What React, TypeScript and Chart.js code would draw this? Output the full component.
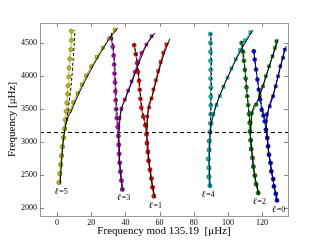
import React, { useEffect, useRef } from 'react';
import { Chart, registerables } from 'chart.js';

Chart.register(...registerables);

// axis ticks
const xTicks = [0, 20, 40, 60, 80, 100, 120];
const yTicks = [2000, 2500, 3000, 3500, 4000, 4500];
const numax = 3152;

// l = 5
const l5_fC = [2385, 2520, 2656, 2792, 2928, 3064, 3200, 3336, 3464, 3591, 3727, 3853, 3985, 4121, 4258, 4398, 4539, 4676];
const l5_xC = [1.0, 1.5, 2.2, 2.5, 3.0, 3.6, 4.3, 4.8, 5.3, 5.7, 6.1, 6.4, 6.9, 7.0, 7.4, 8.0, 8.4, 8.4];
const l5_fS = [2388, 2522, 2657, 2793, 2929, 3065, 3202, 3340, 3470, 3600, 3735, 3870, 4005, 4145, 4285, 4425, 4562, 4700];
const l5_xS = [1.4, 1.8, 2.0, 2.8, 3.3, 3.9, 4.6, 5.5, 7.5, 9.5, 12.0, 14.5, 17.0, 20.0, 23.2, 26.8, 30.3, 33.8];
const l5_fMS = [2370, 2900, 3250, 3480, 3720, 3930, 4150, 4350, 4560, 4720];
const l5_xMS = [1.8, 3.2, 5.0, 8.5, 12.5, 16.5, 21.0, 25.5, 30.5, 35.5];
const l5_fMC = [3250, 3500, 3800, 4100, 4400, 4690];
const l5_xMC = [5.0, 6.5, 8.0, 9.0, 9.8, 10.5];

// l = 3
const l3_fC = [2281, 2416, 2551, 2686, 2821, 2956, 3091, 3226, 3361, 3496, 3631, 3766, 3901, 4036, 4171, 4306, 4441, 4576];
const l3_xC = [38.3, 37.6, 37.0, 36.6, 36.3, 36.0, 35.8, 35.4, 34.9, 34.6, 34.3, 34.1, 33.9, 33.6, 33.4, 33.1, 32.6, 31.5];
const l3_fS = [2281, 2416, 2551, 2686, 2821, 2956, 3091, 3226, 3361, 3500, 3641, 3777, 3918, 4061, 4206, 4348, 4474, 4600];
const l3_xS = [38.0, 37.8, 37.3, 36.8, 36.5, 36.3, 36.0, 35.9, 36.5, 37.7, 39.6, 41.6, 43.6, 45.5, 47.4, 49.4, 52.3, 55.3];
const l3_fMS = [2260, 2700, 3100, 3400, 3650, 3920, 4200, 4450, 4650];
const l3_xMS = [38.6, 36.6, 36.0, 37.0, 40.0, 44.0, 48.0, 52.0, 57.2];
const l3_fMC = [3250, 3700, 4100, 4400, 4650];
const l3_xMC = [35.6, 34.6, 33.9, 33.0, 31.8];

// l = 1
const l1_fC = [2179, 2313, 2447, 2581, 2715, 2849, 2983, 3117, 3251, 3384, 3519, 3654, 3789, 3924, 4059, 4194, 4329, 4464];
const l1_xC = [56.6, 56.0, 55.2, 54.3, 53.6, 53.1, 52.7, 52.3, 51.6, 50.4, 49.3, 48.8, 48.4, 48.0, 47.4, 46.8, 46.1, 45.1];
const l1_fS = [2179, 2313, 2447, 2581, 2715, 2849, 2983, 3117, 3251, 3386, 3522, 3659, 3795, 3933, 4071, 4210, 4350, 4478];
const l1_xS = [56.9, 55.7, 55.4, 54.6, 53.5, 53.3, 52.5, 52.5, 52.3, 52.8, 53.9, 55.3, 56.4, 57.8, 59.1, 60.6, 62.2, 64.0];
const l1_fMS = [2160, 2600, 3100, 3400, 3700, 4000, 4300, 4560];
const l1_xMS = [57.2, 54.2, 52.4, 53.0, 55.8, 58.8, 62.2, 66.0];
const l1_fMC = [3250, 3550, 3900, 4250, 4500];
const l1_xMC = [51.8, 49.5, 48.2, 46.7, 45.0];

// l = 4
const l4_fC = [2338, 2473, 2608, 2743, 2878, 3013, 3148, 3283, 3418, 3553, 3688, 3823, 3958, 4093, 4228, 4363, 4498, 4633];
const l4_xC = [89.4, 89.0, 88.8, 88.7, 88.9, 89.2, 89.4, 89.7, 89.9, 90.0, 90.0, 90.0, 89.9, 89.9, 89.8, 89.8, 89.8, 89.7];
const l4_fS = [2338, 2473, 2608, 2743, 2878, 3013, 3148, 3283, 3420, 3558, 3696, 3834, 3973, 4113, 4253, 4394, 4536, 4660];
const l4_xS = [89.6, 88.6, 89.2, 88.5, 89.2, 88.9, 89.8, 90.4, 91.5, 93.3, 95.3, 97.4, 99.8, 102.1, 104.5, 107.1, 110.0, 113.2];
const l4_fMS = [2320, 2700, 3100, 3400, 3750, 4030, 4300, 4530, 4690];
const l4_xMS = [89.6, 89.0, 89.6, 91.5, 96.0, 100.8, 105.8, 110.8, 114.6];
const l4_fMC = [3250, 3800, 4300, 4650];
const l4_xMC = [89.9, 90.3, 90.3, 90.1];

// l = 2
const l2_fC = [2227, 2360, 2493, 2626, 2759, 2892, 3025, 3158, 3291, 3424, 3558, 3692, 3826, 3960, 4094, 4228, 4362, 4496];
const l2_xC = [117.7, 116.6, 115.7, 115.0, 114.3, 113.7, 113.2, 112.9, 112.7, 112.4, 111.9, 111.3, 110.9, 110.4, 109.9, 109.4, 108.9, 108.0];
const l2_fS = [2227, 2360, 2493, 2626, 2759, 2892, 3025, 3158, 3291, 3439, 3565, 3700, 3842, 3994, 4145, 4297, 4424, 4524];
const l2_xS = [117.9, 116.4, 116.0, 114.8, 114.6, 113.5, 113.5, 113.0, 113.3, 114.0, 116.7, 118.7, 120.6, 122.2, 124.1, 126.1, 127.5, 128.4];
const l2_fMS = [2210, 2600, 3100, 3400, 3650, 3950, 4250, 4550];
const l2_xMS = [118.2, 115.0, 113.0, 114.0, 117.8, 121.8, 125.6, 129.4];
const l2_fMC = [3300, 3700, 4100, 4400, 4530];
const l2_xMC = [112.8, 111.4, 110.0, 108.8, 107.8];

// l = 0
const l0_fC = [2115, 2217, 2327, 2439, 2555, 2682, 2808, 2933, 3061, 3186, 3312, 3400, 3485, 3641, 3792, 3944, 4095, 4247, 4373];
const l0_xC = [128.8, 128.0, 127.0, 126.5, 125.5, 124.9, 124.1, 123.5, 123.0, 122.2, 121.6, 120.8, 119.8, 118.9, 118.1, 117.3, 116.5, 115.7, 115.2];
const l0_fS = [2115, 2217, 2327, 2439, 2555, 2682, 2808, 2933, 3061, 3186, 3312, 3420, 3539, 3691, 3842, 3994, 4145, 4273, 4398];
const l0_xS = [128.6, 128.2, 126.8, 126.7, 125.3, 125.1, 123.9, 123.7, 123.2, 122.5, 122.3, 122.8, 124.5, 126.5, 128.0, 129.4, 130.7, 132.3, 133.3];
const l0_fMS = [2100, 2450, 3000, 3300, 3520, 3800, 4100, 4350, 4450];
const l0_xMS = [129.2, 126.2, 123.2, 122.2, 124.0, 127.4, 130.4, 132.8, 134.2];
const l0_fMC = [3350, 3600, 3900, 4200, 4400];
const l0_xMC = [121.4, 119.4, 117.5, 116.0, 115.0];

// degree labels
const labelText = ['5', '3', '1', '4', '2', '0'];
const labelX = [2.3, 38.9, 57.6, 88.4, 118.4, 129.7];
const labelY = [2252, 2152, 2035, 2202, 2095, 1970];

const SERIF = '"Liberation Serif", "DejaVu Serif", serif';

const pts = (xs: number[], fs: number[]) => xs.map((x, i) => ({ x, y: fs[i] }));

const overlay = {
  id: 'overlay',
  afterDatasetsDraw(chart: any) {
    const { ctx, chartArea: a, scales } = chart;
    const xs = scales.x, ys = scales.y;
    ctx.save();
    // numax dashed line
    const yN = Math.round(ys.getPixelForValue(numax)) + 0.5;
    ctx.strokeStyle = '#000';
    ctx.lineWidth = 1;
    ctx.setLineDash([4, 3]);
    ctx.beginPath();
    ctx.moveTo(a.left, yN);
    ctx.lineTo(a.right, yN);
    ctx.stroke();
    ctx.setLineDash([]);
    // frame
    ctx.strokeStyle = '#999';
    ctx.lineWidth = 1;
    ctx.strokeRect(Math.round(a.left) + 0.5, Math.round(a.top) + 0.5, Math.round(a.right - a.left), Math.round(a.bottom - a.top));
    // inward ticks
    ctx.strokeStyle = '#888';
    ctx.beginPath();
    xTicks.forEach((v) => {
      const px = Math.round(xs.getPixelForValue(v)) + 0.5;
      ctx.moveTo(px, a.bottom); ctx.lineTo(px, a.bottom - 4);
      ctx.moveTo(px, a.top); ctx.lineTo(px, a.top + 4);
    });
    yTicks.forEach((v) => {
      const py = Math.round(ys.getPixelForValue(v)) + 0.5;
      ctx.moveTo(a.left, py); ctx.lineTo(a.left + 4, py);
      ctx.moveTo(a.right, py); ctx.lineTo(a.right - 4, py);
    });
    ctx.stroke();
    // degree labels
    ctx.fillStyle = '#000';
    ctx.textBaseline = 'middle';
    labelText.forEach((t, i) => {
      const cx = xs.getPixelForValue(labelX[i]);
      const cy = ys.getPixelForValue(labelY[i]);
      ctx.font = `italic 9px ${SERIF}`;
      const w1 = ctx.measureText('ℓ').width;
      ctx.font = `8px ${SERIF}`;
      const w2 = ctx.measureText('=' + t).width;
      const x0 = cx - (w1 + w2 + 1) / 2;
      ctx.textAlign = 'left';
      ctx.font = `italic 9px ${SERIF}`;
      ctx.fillText('ℓ', x0, cy);
      ctx.font = `8px ${SERIF}`;
      ctx.fillText('=' + t, x0 + w1 + 1, cy);
    });
    ctx.restore();
  },
};

export default function App() {
  const ref = useRef<HTMLCanvasElement>(null);
  useEffect(() => {
    const groups = [
      { c: '#bfbf00', fC: l5_fC, xC: l5_xC, fS: l5_fS, xS: l5_xS, fMS: l5_fMS, xMS: l5_xMS, fMC: l5_fMC, xMC: l5_xMC },
      { c: '#bf00bf', fC: l3_fC, xC: l3_xC, fS: l3_fS, xS: l3_xS, fMS: l3_fMS, xMS: l3_xMS, fMC: l3_fMC, xMC: l3_xMC },
      { c: '#ff0000', fC: l1_fC, xC: l1_xC, fS: l1_fS, xS: l1_xS, fMS: l1_fMS, xMS: l1_xMS, fMC: l1_fMC, xMC: l1_xMC },
      { c: '#00bfbf', fC: l4_fC, xC: l4_xC, fS: l4_fS, xS: l4_xS, fMS: l4_fMS, xMS: l4_xMS, fMC: l4_fMC, xMC: l4_xMC },
      { c: '#008000', fC: l2_fC, xC: l2_xC, fS: l2_fS, xS: l2_xS, fMS: l2_fMS, xMS: l2_xMS, fMC: l2_fMC, xMC: l2_xMC },
      { c: '#0000ff', fC: l0_fC, xC: l0_xC, fS: l0_fS, xS: l0_xS, fMS: l0_fMS, xMS: l0_xMS, fMC: l0_fMC, xMC: l0_xMC },
    ];
    const datasets: any[] = [];
    groups.forEach((g) => {
      datasets.push({
        data: pts(g.xC, g.fC), showLine: true, borderColor: g.c, borderWidth: 1,
        backgroundColor: g.c, pointBackgroundColor: g.c, pointBorderColor: '#333', pointBorderWidth: 0.4,
        pointStyle: 'circle', pointRadius: 2.1, order: 1,
      });
      datasets.push({
        data: pts(g.xS, g.fS), showLine: true, borderColor: g.c, borderWidth: 1,
        backgroundColor: g.c, pointBackgroundColor: g.c, pointBorderColor: '#333', pointBorderWidth: 0.4,
        pointStyle: 'rect', pointRadius: 2.2, order: 1,
      });
      datasets.push({
        data: pts(g.xMS, g.fMS), showLine: true, borderColor: '#000', borderWidth: 1,
        pointRadius: 0, tension: 0.4, cubicInterpolationMode: 'monotone', order: 0,
      });
      datasets.push({
        data: pts(g.xMC, g.fMC), showLine: true, borderColor: '#000', borderWidth: 1, borderDash: [3, 2],
        pointRadius: 0, tension: 0.4, order: 0,
      });
    });
    const tickFont = { family: SERIF, size: 8 };
    const titleFont = { family: SERIF, size: 11 };
    const chart = new Chart(ref.current as HTMLCanvasElement, {
      type: 'scatter',
      data: { datasets },
      plugins: [overlay],
      options: {
        animation: false,
        responsive: false,
        layout: { padding: { top: 23, right: 32, left: 0, bottom: 0 } },
        plugins: { legend: { display: false }, tooltip: { enabled: false } },
        scales: {
          x: {
            type: 'linear', min: -10, max: 135.19,
            afterBuildTicks: (s: any) => { s.ticks = xTicks.map((v) => ({ value: v })); },
            afterFit: (s: any) => { s.height = 24; },
            grid: { display: false, drawTicks: false },
            border: { display: false },
            ticks: { font: tickFont, color: '#000', padding: 2, maxRotation: 0, autoSkip: false, callback: (v: any) => String(v) },
            title: { display: true, text: 'Frequency mod 135.19  [μHz]', font: titleFont, color: '#000', padding: { top: 0, bottom: 2 } },
          },
          y: {
            type: 'linear', min: 1880, max: 4800,
            afterBuildTicks: (s: any) => { s.ticks = yTicks.map((v) => ({ value: v })); },
            afterFit: (s: any) => { s.width = 40; },
            grid: { display: false, drawTicks: false },
            border: { display: false },
            ticks: { font: tickFont, color: '#000', padding: 3, autoSkip: false, callback: (v: any) => String(v) },
            title: { display: true, text: 'Frequency [μHz]', font: titleFont, color: '#000', padding: { top: 6, bottom: 0 } },
          },
        },
      } as any,
    });
    return () => chart.destroy();
  }, []);
  return (
    <div style={{ position: 'absolute', left: 0, top: 0, width: 320, height: 240, background: '#fff' }}>
      <canvas ref={ref} width={320} height={240} style={{ width: 320, height: 240, display: 'block' }} />
    </div>
  );
}
